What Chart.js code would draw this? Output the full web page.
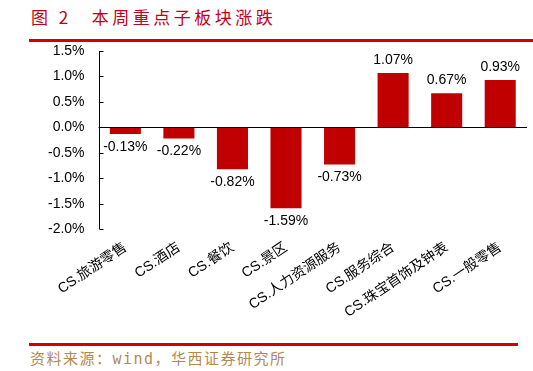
<!DOCTYPE html>
<html>
<head>
<meta charset="utf-8">
<script src="https://cdn.jsdelivr.net/npm/chart.js@4"></script>
<style>
  body { margin:0; width:533px; height:371px; background:#fff; position:relative; overflow:hidden; }
  #title { position:absolute; left:31px; top:4px; font:17px "Noto Sans CJK SC"; color:#c0001a; letter-spacing:3.5px; white-space:nowrap; }
  #title span { margin-left:20px; }
  #topline { position:absolute; left:29px; top:39px; width:504px; height:3px; background:#d40000; }
  #botline { position:absolute; left:29px; top:343px; width:489px; height:3px; background:#d40000; }
  #source { position:absolute; left:30px; top:347px; font:15px "DejaVu Sans Mono", "Noto Sans CJK SC"; color:#b08a52; letter-spacing:1.5px; white-space:nowrap; }
  #wrap { position:absolute; left:0; top:0; width:533px; height:340px; }
</style>
</head>
<body>
<div id="title">图 2<span>本周重点子板块涨跌</span></div>
<div id="topline"></div>
<div id="wrap"><canvas id="c"></canvas></div>
<div id="botline"></div>
<div id="source">资料来源：wind，华西证券研究所</div>
<script>
// sub-sector weekly change, %
const categories = ["CS.旅游零售","CS.酒店","CS.餐饮","CS.景区","CS.人力资源服务","CS.服务综合","CS.珠宝首饰及钟表","CS.一般零售"];
const changes = [-0.13, -0.22, -0.82, -1.59, -0.73, 1.07, 0.67, 0.93];
const yTicks = [1.5, 1.0, 0.5, 0.0, -0.5, -1.0, -1.5, -2.0];

const barColor = "#c00000";
const font = "Liberation Sans, Arial, Noto Sans CJK SC";

// value labels + inward y ticks
const extras = {
  id: "extras",
  afterDatasetsDraw(chart){
    const ctx = chart.ctx, y = chart.scales.y;
    ctx.save();
    // zero line
    ctx.strokeStyle = "#000"; ctx.lineWidth = 1;
    ctx.beginPath();
    ctx.moveTo(chart.chartArea.left, Math.round(y.getPixelForValue(0)) + 0.5);
    ctx.lineTo(chart.chartArea.right, Math.round(y.getPixelForValue(0)) + 0.5);
    ctx.stroke();
    // axis line and ticks
    const ax = Math.round(chart.chartArea.left) + 0.5;
    ctx.beginPath();
    ctx.moveTo(ax, y.getPixelForValue(1.5));
    ctx.lineTo(ax, y.getPixelForValue(-2));
    yTicks.forEach(v => {
      const py = Math.round(y.getPixelForValue(v)) + 0.5;
      ctx.moveTo(ax, py); ctx.lineTo(ax + 4, py);
    });
    ctx.stroke();
    // value labels
    ctx.fillStyle = "#000";
    ctx.font = "14px " + font;
    ctx.textAlign = "center";
    const meta = chart.getDatasetMeta(0);
    meta.data.forEach((bar, i) => {
      const v = changes[i];
      const txt = v.toFixed(2) + "%";
      if (v >= 0) { ctx.textBaseline = "bottom"; ctx.fillText(txt, bar.x, bar.y - 6); }
      else { ctx.textBaseline = "top"; ctx.fillText(txt, bar.x, bar.y + 6); }
    });
    ctx.restore();
  }
};

new Chart(document.getElementById("c"), {
  type: "bar",
  data: { labels: categories, datasets: [{ data: changes, backgroundColor: barColor, categoryPercentage: 1, barPercentage: 0.58 }] },
  options: {
    responsive: true, maintainAspectRatio: false, animation: false,
    layout: { padding: { top: 51, left: 34, right: 6, bottom: 9 } },
    plugins: { legend: { display: false }, tooltip: { enabled: false } },
    scales: {
      x: {
        grid: { display: false, drawTicks: false },
        border: { display: false },
        ticks: { color: "#000", font: { size: 14, family: font }, maxRotation: 34, minRotation: 34, padding: 10, autoSkip: false }
      },
      y: {
        min: -2, max: 1.5,
        grid: { display: false, drawTicks: false },
        border: { display: false },
        afterBuildTicks: axis => { axis.ticks = yTicks.map(v => ({ value: v })); },
        ticks: { color: "#000", padding: 14, font: { size: 14, family: font }, callback: v => Number(v).toFixed(1) + "%" }
      }
    }
  },
  plugins: [extras]
});
</script>
</body>
</html>
